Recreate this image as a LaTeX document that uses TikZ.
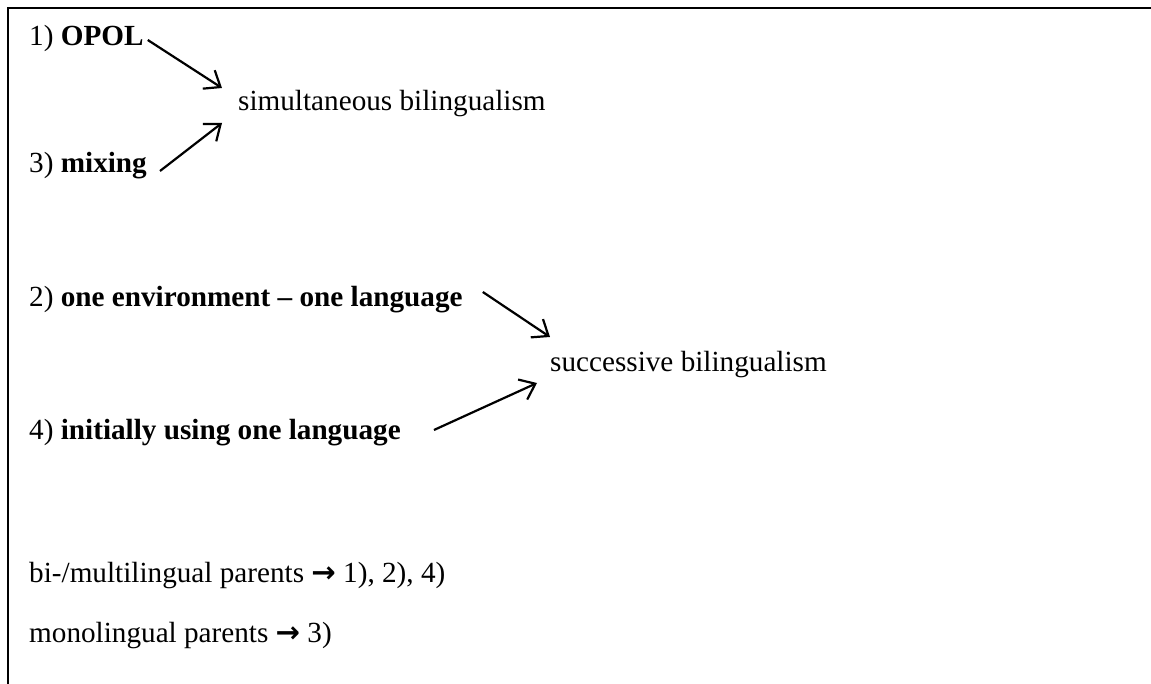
\documentclass[tikz,border=0pt]{standalone}
\usepackage{fontspec}
\setmainfont{Liberation Serif}
\newfontfamily\arrowfont{DejaVu Sans}
\usetikzlibrary{arrows.meta,calc}
\begin{document}
\begin{tikzpicture}[x=1pt,y=-1pt,
  txt/.style={anchor=base west, inner sep=0pt, font=\fontsize{29.2}{35}\selectfont},
  arr/.style={line width=2.2pt, -{Straight Barb[length=14pt,width=22pt,line width=2.2pt]}},
  frame/.style={line width=2pt}]
\useasboundingbox (0,0) rectangle (1151,684);
\draw[frame] (8,684) -- (8,8) -- (1151,8);
\node[txt] (o1) at (29,46) {1) \textbf{OPOL}};
\node[txt] (sim) at (238,111) {simultaneous bilingualism};
\node[txt] (o3) at (29,173) {3) \textbf{mixing}};
\node[txt] (o2) at (29,307) {2) \textbf{one environment – one language}};
\node[txt] (suc) at (550,372) {successive bilingualism};
\node[txt] (o4) at (29,439) {4) \textbf{initially using one language}};
\node[txt] (bi) at (29,582) {bi-/multilingual parents {\arrowfont\bfseries →} 1), 2), 4)};
\node[txt] (mono) at (29,642) {monolingual parents {\arrowfont\bfseries →} 3)};
\draw[arr] ($(o1.base east)+(4,-6)$) -- ($(sim.base west)+(-16,-23)$);
\draw[arr] ($(o3.base east)+(13,-2)$) -- ($(sim.base west)+(-16,12)$);
\draw[arr] ($(o2.base east)+(20,-15)$) -- ($(suc.base west)+(0,-35)$);
\draw[arr] ($(o4.base east)+(33,-9)$) -- ($(suc.base west)+(-13,11)$);
\end{tikzpicture}
\end{document}
